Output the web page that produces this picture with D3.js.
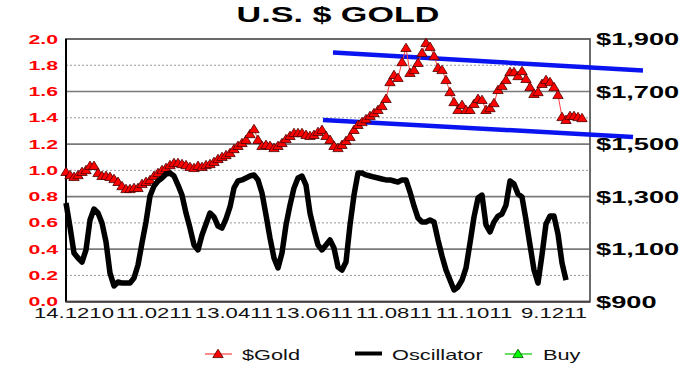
<!DOCTYPE html>
<html>
<head>
<meta charset="utf-8">
<script src="https://cdn.jsdelivr.net/npm/d3@7"></script>
<style>
  body { margin: 0; background: #fff; }
  text { font-family: Arial, "Liberation Sans", sans-serif; }
</style>
</head>
<body>
<div id="chart"></div>
<script>
// gold close ($, right axis), roughly every other trading day
var gold = [1394,1382,1375,1382,1394,1401,1417,1417,1390,1379,1379,1375,1367,1356,1340,1329,
  1329,1333,1333,1348,1356,1363,1379,1390,1401,1409,1420,1428,1428,1424,1420,1413,
  1409,1417,1413,1420,1424,1432,1443,1451,1458,1466,1481,1493,1504,1516,1538,1557,
  1516,1493,1497,1493,1485,1493,1504,1519,1531,1542,1542,1542,1535,1531,1535,1546,
  1554,1531,1516,1493,1485,1497,1512,1527,1554,1573,1584,1595,1607,1618,1630,1645,
  1672,1736,1763,1752,1812,1866,1771,1782,1809,1847,1885,1870,1835,1790,1782,1744,
  1698,1660,1630,1649,1630,1630,1653,1672,1668,1630,1637,1656,1706,1721,1744,1774,
  1774,1759,1778,1748,1717,1691,1698,1729,1744,1736,1717,1687,1603,1592,1607,1607,
  1603,1599];

// oscillator (left axis, 0..2), stops a few points before the gold series
var osc = [0.751,0.569,0.371,0.333,0.302,0.394,0.622,0.706,0.675,0.599,0.455,0.218,0.120,0.150,0.142,0.142,
  0.142,0.180,0.279,0.447,0.607,0.805,0.881,0.919,0.942,0.972,0.980,0.957,0.888,0.812,0.675,0.561,
  0.432,0.394,0.508,0.592,0.675,0.645,0.576,0.561,0.630,0.721,0.866,0.919,0.927,0.942,0.957,0.965,
  0.927,0.828,0.660,0.485,0.333,0.257,0.371,0.584,0.736,0.866,0.942,0.957,0.888,0.675,0.546,0.432,
  0.394,0.432,0.470,0.409,0.264,0.241,0.302,0.584,0.812,0.980,0.980,0.965,0.957,0.949,0.942,0.934,
  0.927,0.927,0.919,0.911,0.927,0.927,0.835,0.729,0.637,0.607,0.607,0.622,0.607,0.470,0.348,0.241,
  0.165,0.089,0.112,0.165,0.257,0.447,0.645,0.789,0.812,0.584,0.531,0.607,0.652,0.668,0.736,0.919,
  0.896,0.820,0.797,0.622,0.432,0.241,0.142,0.356,0.592,0.652,0.652,0.515,0.295,0.165,
  null,null,null,null];

var buy = [];  // no buy signals in this window

var tickIdx = [2, 22, 42, 62, 82, 102, 122];
var tickLabels = ["14.1210", "11.0211", "13.0411", "13.0611", "11.0811", "11.1011", "9.1211"];

var leftTicks = [0, 0.2, 0.4, 0.6, 0.8, 1.0, 1.2, 1.4, 1.6, 1.8, 2.0];
var rightTicks = [900, 1100, 1300, 1500, 1700, 1900];

// channel lines: [index, $] end points
var upperTrend = [[66.75, 1849], [144.25, 1780]];
var lowerTrend = [[64.25, 1592], [141.75, 1527]];

var W = 680, H = 377;
var pLeft = 66, pRight = 590, pTop = 39, pBottom = 301.7;

var svg = d3.select("#chart").append("svg")
    .attr("width", W).attr("height", H);

var x = d3.scaleLinear().domain([0, 131]).range([pLeft, pRight]);
var yL = d3.scaleLinear().domain([0, 2]).range([pBottom, pTop]);
var yR = d3.scaleLinear().domain([900, 1900]).range([pBottom, pTop]);

// the source image is stretched sideways, so stretch the text too
function stretch(sel, k) {
  sel.each(function() {
    var w = this.getComputedTextLength();
    d3.select(this).attr("textLength", w * k).attr("lengthAdjust", "spacingAndGlyphs");
  });
}

// gridlines
svg.append("g").selectAll("line")
    .data(leftTicks.filter(function(d) { return d > 0 && d < 2; }))
    .enter().append("line")
    .attr("x1", pLeft).attr("x2", pRight)
    .attr("y1", function(d) { return yL(d); })
    .attr("y2", function(d) { return yL(d); })
    .style("stroke", function(d, i) { return i % 2 == 0 ? "#999" : "#7a7a7a"; })
    .style("stroke-width", function(d, i) { return i % 2 == 0 ? 1 : 1.6; })
    .style("stroke-dasharray", function(d, i) { return i % 2 == 0 ? "2,2" : null; });

// plot frame
svg.append("rect")
    .attr("x", pLeft).attr("y", pTop)
    .attr("width", pRight - pLeft).attr("height", pBottom - pTop)
    .style("fill", "none").style("stroke", "#5a5a5a").style("stroke-width", 1.8);
svg.append("line")
    .attr("x1", pLeft).attr("x2", pLeft).attr("y1", pTop).attr("y2", pBottom)
    .style("stroke", "#000").style("stroke-width", 2);
svg.append("line")
    .attr("x1", pLeft).attr("x2", pRight).attr("y1", pBottom).attr("y2", pBottom)
    .style("stroke", "#4a4040").style("stroke-width", 2);

// channel
var trend = d3.line()
    .x(function(d) { return x(d[0]); })
    .y(function(d) { return yR(d[1]); });
[upperTrend, lowerTrend].forEach(function(t) {
  svg.append("path").datum(t)
    .attr("d", trend)
    .style("fill", "none").style("stroke", "#0a14f0").style("stroke-width", 4.5);
});

// gold
var goldLine = d3.line()
    .x(function(d, i) { return x(i); })
    .y(function(d) { return yR(d); });
svg.append("path").datum(gold)
    .attr("d", goldLine)
    .style("fill", "none").style("stroke", "#ff4040").style("stroke-width", 1);

var tri = "M0,-4.8L5.2,3.6L-5.2,3.6Z";
svg.append("g").selectAll("path")
    .data(gold)
    .enter().append("path")
    .attr("d", tri)
    .attr("transform", function(d, i) { return "translate(" + x(i) + "," + yR(d) + ")"; })
    .style("fill", "#ff0000").style("stroke", "#4a0000").style("stroke-width", 0.8);

svg.append("g").selectAll("path")
    .data(buy)
    .enter().append("path")
    .attr("d", tri)
    .attr("transform", function(d) { return "translate(" + x(d[0]) + "," + yR(d[1]) + ")"; })
    .style("fill", "#00ff00").style("stroke", "#004a00");

// oscillator
var oscLine = d3.line()
    .defined(function(d) { return d != null; })
    .x(function(d, i) { return x(i); })
    .y(function(d) { return yL(d); });
svg.append("path").datum(osc)
    .attr("d", oscLine)
    .style("fill", "none").style("stroke", "#000").style("stroke-width", 5.5)
    .style("stroke-linejoin", "round");

// title
svg.append("text")
    .attr("x", 338).attr("y", 22)
    .attr("text-anchor", "middle")
    .style("font-size", "22px").style("font-weight", "bold")
    .text("U.S. $ GOLD")
    .call(stretch, 1.55);

// left axis labels
svg.append("g").selectAll("text")
    .data(leftTicks)
    .enter().append("text")
    .attr("x", 58)
    .attr("y", function(d) { return yL(d); })
    .attr("dy", "0.36em")
    .attr("text-anchor", "end")
    .style("font-size", "12.5px").style("font-weight", "bold").style("fill", "#ff0000")
    .text(function(d) { return d.toFixed(1); })
    .call(stretch, 1.7);

// right axis labels
svg.append("g").selectAll("text")
    .data(rightTicks)
    .enter().append("text")
    .attr("x", 596)
    .attr("y", function(d) { return yR(d); })
    .attr("dy", "0.36em")
    .style("font-size", "17px").style("font-weight", "bold").style("fill", "#000")
    .text(function(d) { return "$" + d3.format(",")(d); })
    .call(stretch, 1.6);

// category labels
svg.append("g").selectAll("text")
    .data(tickLabels)
    .enter().append("text")
    .attr("x", function(d, i) { return x(tickIdx[i]); })
    .attr("y", 318)
    .attr("text-anchor", "middle")
    .style("font-size", "14px").style("fill", "#111")
    .text(function(d) { return d; })
    .call(stretch, 1.58);

// legend
var lg = svg.append("g");
var ly = 354;
lg.append("line").attr("x1", 205).attr("x2", 232).attr("y1", ly).attr("y2", ly)
    .style("stroke", "#ff4040").style("stroke-width", 1.2);
lg.append("path").attr("d", tri).attr("transform", "translate(218," + ly + ")")
    .style("fill", "#ff0000").style("stroke", "#4a0000").style("stroke-width", 0.8);
lg.append("line").attr("x1", 355).attr("x2", 382).attr("y1", ly - 0.5).attr("y2", ly - 0.5)
    .style("stroke", "#000").style("stroke-width", 4);
lg.append("line").attr("x1", 505).attr("x2", 532).attr("y1", ly).attr("y2", ly)
    .style("stroke", "#00cc00").style("stroke-width", 1.2);
lg.append("path").attr("d", tri).attr("transform", "translate(518," + ly + ")")
    .style("fill", "#00ff00").style("stroke", "#004a00").style("stroke-width", 0.8);

var legendText = [["$Gold", 242], ["Oscillator", 392], ["Buy", 543]];
lg.selectAll("text")
    .data(legendText)
    .enter().append("text")
    .attr("x", function(d) { return d[1]; })
    .attr("y", 360)
    .style("font-size", "15px").style("fill", "#111")
    .text(function(d) { return d[0]; })
    .call(stretch, 1.45);
</script>
</body>
</html>
